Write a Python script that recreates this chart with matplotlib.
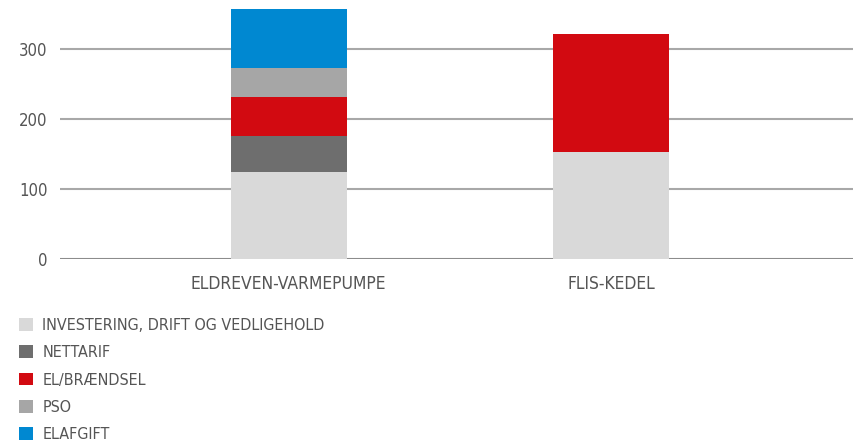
import matplotlib.pyplot as plt
from matplotlib.patches import Patch

# Dados
kategorier = ['ELDREVEN-VARMEPUMPE', 'FLIS-KEDEL']
serier = ['INVESTERING, DRIFT OG VEDLIGEHOLD', 'NETTARIF', 'EL/BRÆNDSEL', 'PSO', 'ELAFGIFT']
investering = [124, 153]
nettarif = [51, 0]
el_braendsel = [56, 168]
pso = [41, 0]
elafgift = [85, 0]
yticks = [0, 100, 200, 300]

farver = ['#d9d9d9', '#6e6e6e', '#d20a11', '#a6a6a6', '#0088d1']

plt.rcParams['font.family'] = ['DejaVu Sans Condensed', 'DejaVu Sans']
plt.rcParams['font.stretch'] = 'condensed'

fig = plt.figure(figsize=(8.54, 4.41), dpi=100)
ax = fig.add_axes([60 / 854, 1 - 258.5 / 441, 794 / 854, 258.5 / 441])

x = list(range(len(kategorier)))
bund = [0] * len(kategorier)
for vaerdier, farve in zip([investering, nettarif, el_braendsel, pso, elafgift], farver):
    ax.bar(x, vaerdier, bottom=bund, width=0.36, color=farve, zorder=3)
    bund = [b + v for b, v in zip(bund, vaerdier)]

# Akser og gitter
ax.set_xlim(-0.709, 1.752)
ax.set_ylim(0, 370)
ax.set_yticks(yticks)
ax.set_yticklabels([str(t) for t in yticks])
ax.set_xticks(x)
ax.set_xticklabels(kategorier)
ax.tick_params(axis='both', length=0, colors='#555555')
ax.tick_params(axis='y', pad=9, labelsize=12)
ax.tick_params(axis='x', pad=12, labelsize=12.5)
for spine in ax.spines.values():
    spine.set_visible(False)
for t in yticks:
    ax.axhline(t, color='#8c8c8c' if t == 0 else '#a8a8a8', lw=1.5, zorder=1)

# Legende
handles = [Patch(facecolor=f, edgecolor='none') for f in farver]
fig.legend(handles, serier, loc='upper left', bbox_to_anchor=(19 / 854, 1 - 318 / 441),
           frameon=False, fontsize=11.5, labelcolor='#555555', handlelength=0.85,
           handleheight=0.85, handletextpad=0.6, labelspacing=0.77,
           borderpad=0, borderaxespad=0)

fig.savefig('out.png', dpi=100)
